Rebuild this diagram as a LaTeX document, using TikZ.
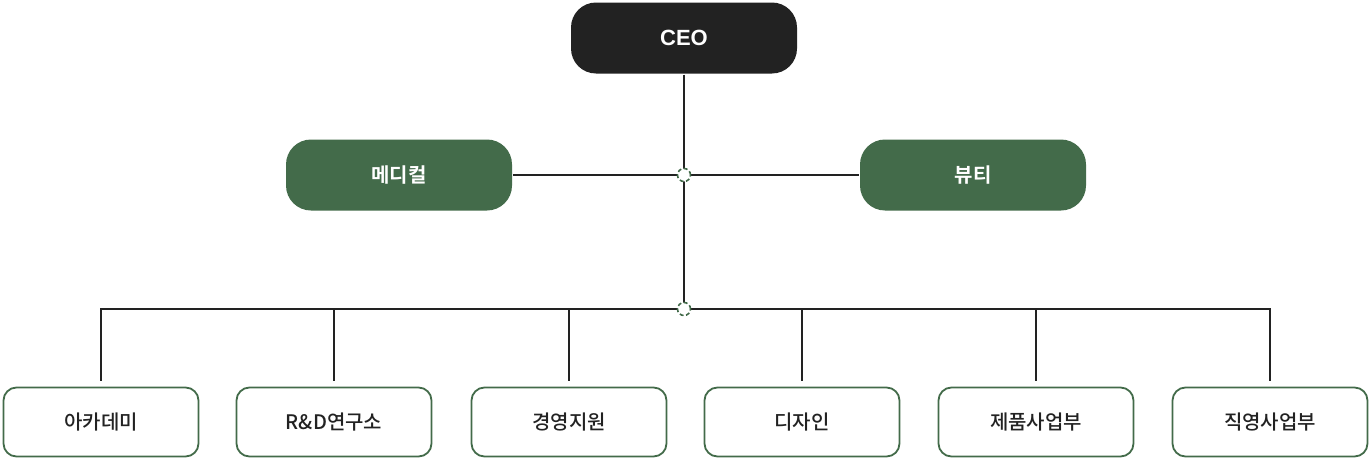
\documentclass[tikz,border=0pt]{standalone}
\usepackage{fontspec}
\setmainfont{Noto Sans CJK KR}[UprightFont=* Medium, BoldFont=* Bold]
\newfontfamily\ceofont{Liberation Sans}
\usepackage{tikz}
\usetikzlibrary{positioning, calc}
\definecolor{ink}{HTML}{222222}
\definecolor{leaf}{HTML}{436B4A}
\tikzset{style={font=\fontsize{20}{22}\selectfont}}

\begin{document}
\begin{tikzpicture}[
            x=1pt, y=-1pt,
            line width=2pt,
            head box/.style={
                rounded corners=25pt,
                minimum width=226pt,
                minimum height=71pt,
                text=white,
                font=\fontsize{20}{22}\selectfont\bfseries,
            },
            ceo box/.style={head box, fill=ink, font=\ceofont\fontsize{22}{24}\selectfont\bfseries},
            div box/.style={head box, fill=leaf},
            team box/.style={
                draw=leaf,
                line width=1.8pt,
                rounded corners=13pt,
                minimum width=195pt,
                minimum height=69pt,
                text=ink,
            },
            joint/.style={
                circle,
                draw=leaf,
                fill=white,
                line width=1.6pt,
                dash pattern=on 4pt off 2.5pt,
                minimum size=13pt,
                inner sep=0pt,
            }]
        \useasboundingbox (0,0) rectangle (1371,463);
        \node[ceo box] (ceo) at (684,38) {CEO};
        \node[div box] (med) at (399,175) {메디컬};
        \node[div box] (beauty) at (973,175) {뷰티};
        \coordinate (j1) at (684,175);
        \coordinate (j2) at (684,309);
        \foreach \x/\name/\txt in {101/aca/아카데미, 334/rnd/R\&D연구소, 569/mgmt/경영지원,
                802/design/디자인, 1036/prod/제품사업부, 1270/retail/직영사업부}
            \node[team box] (\name) at (\x,422) {\txt};
        \draw[ink] (ceo) -- (j2);
        \draw[ink] (med) -- (beauty);
        \foreach \name in {aca, rnd, mgmt, design, prod, retail}
            \draw[ink, shorten <=6pt] (\name.north) |- (j2);
        \node[joint] at (j1) {};
        \node[joint] at (j2) {};
        \end{tikzpicture}
\end{document}
